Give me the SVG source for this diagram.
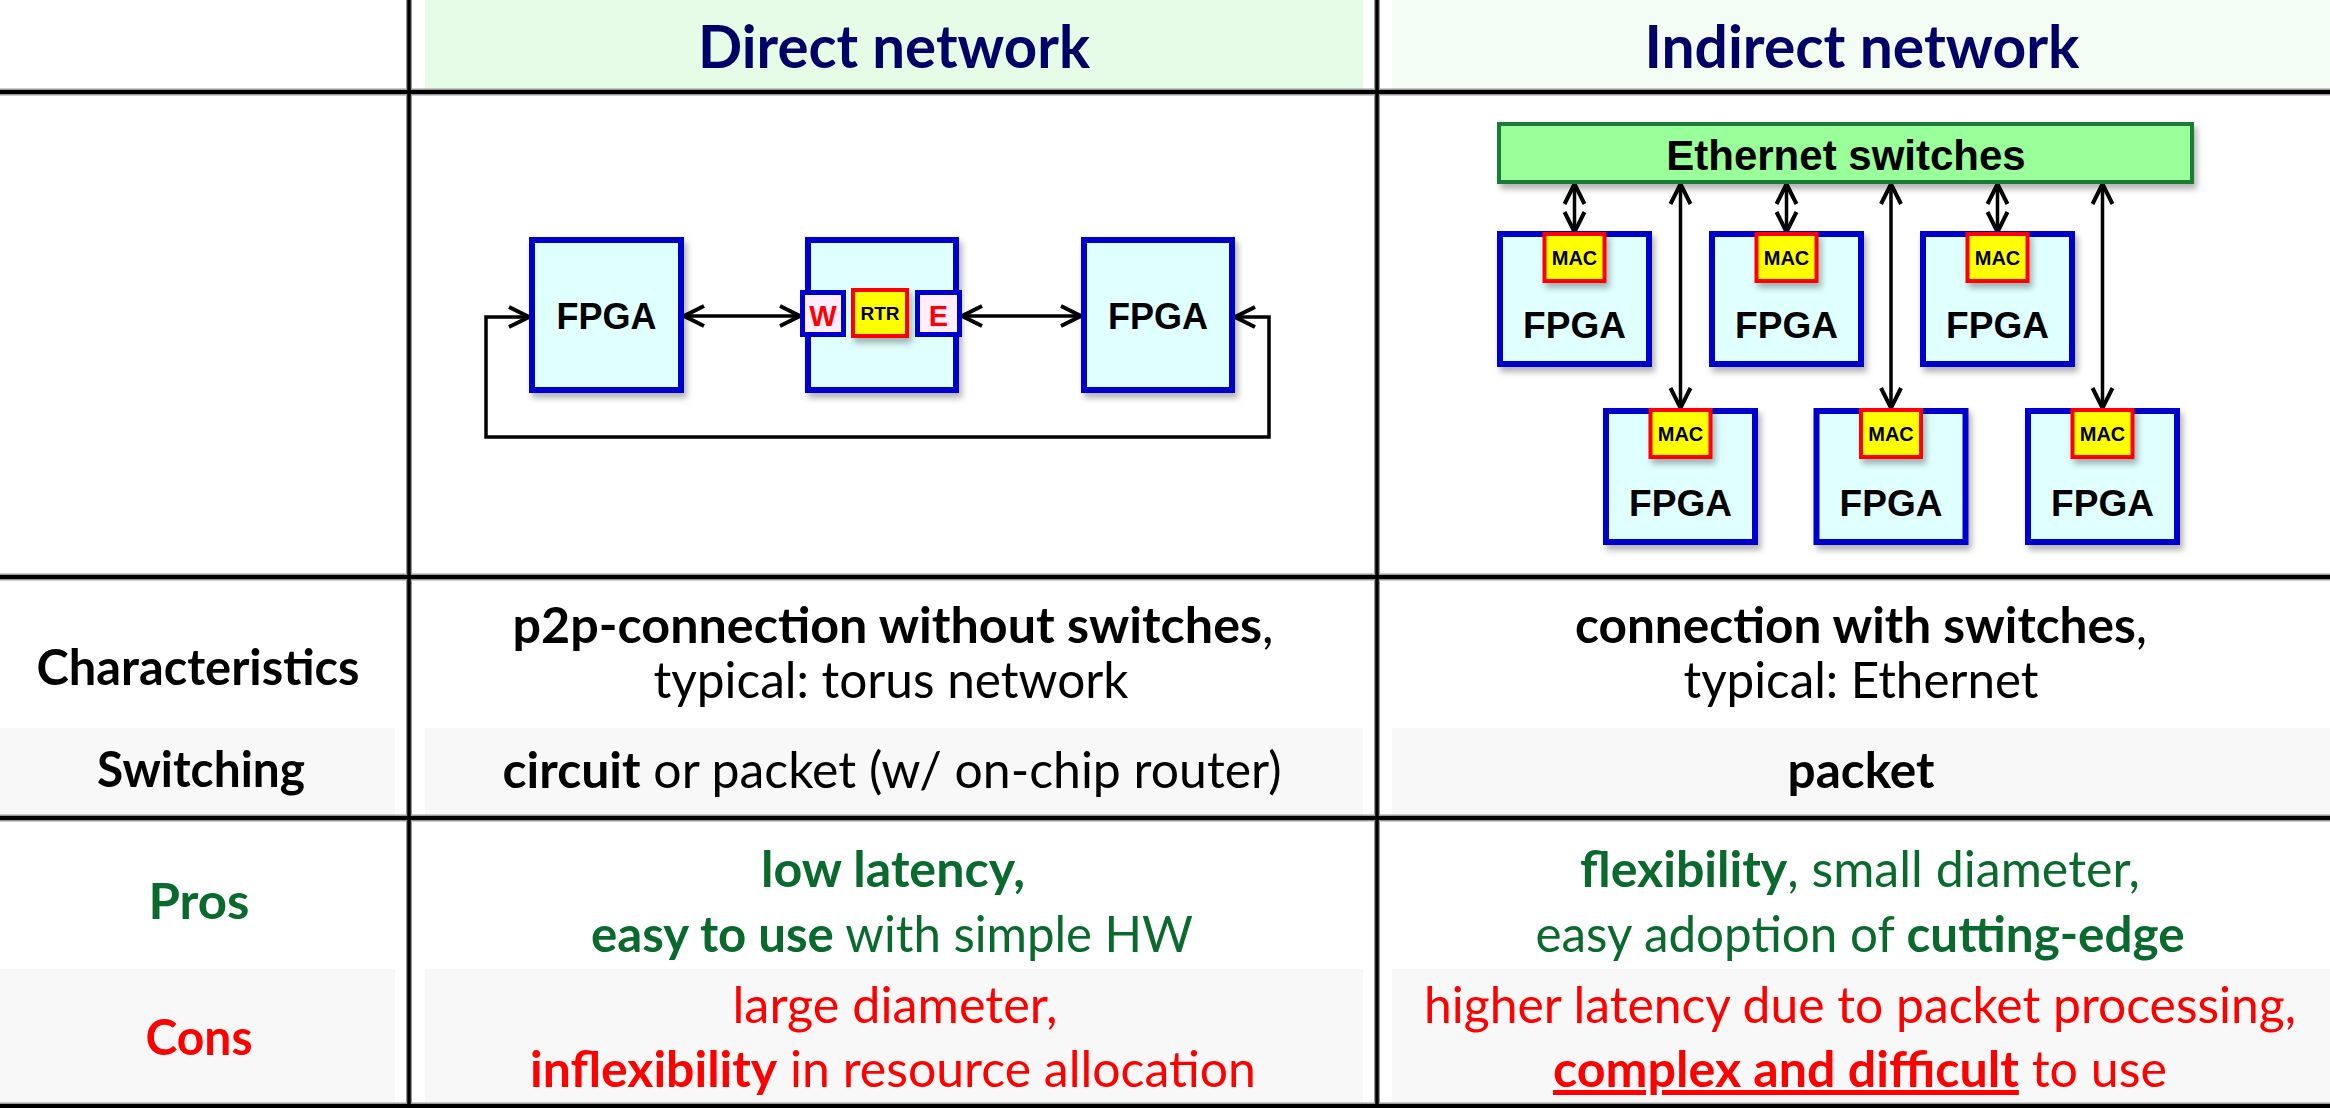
<svg xmlns="http://www.w3.org/2000/svg" width="2330" height="1108" viewBox="0 0 2330 1108">
<style>
.t{font-family:Lato,"Open Sans","Liberation Sans",sans-serif;font-size:50px;text-anchor:middle}
.b{font-weight:bold}
.hd{font-family:Lato,"Open Sans","Liberation Sans",sans-serif;font-size:60px;font-weight:bold;fill:#000066;text-anchor:middle}
.k{fill:#000}
.g{fill:#0a6a2e}
.r{fill:#ff0000}
.fp{fill:#e0ffff;stroke:#0000cc;stroke-width:6}
.mac{fill:#ffff00;stroke:#ff0000;stroke-width:4}
.port{fill:#ffeeff;stroke:#0000cc;stroke-width:5}
.dt{font-family:"Liberation Sans",Arial,sans-serif;font-weight:bold;text-anchor:middle}
.cn{fill:none;stroke:#000;stroke-width:3.5}
.gl{stroke:#9a9a9a;stroke-width:7}
.gk{stroke:#000;stroke-width:4}
</style>
<defs>
<filter id="sh" x="-20%" y="-20%" width="150%" height="150%">
<feDropShadow dx="3" dy="5" stdDeviation="3" flood-color="#000" flood-opacity="0.3"/>
</filter>
<marker id="ah" markerUnits="userSpaceOnUse" viewBox="-24 -14 28 28" markerWidth="28" markerHeight="28" refX="0" refY="0" orient="auto-start-reverse">
<path d="M-20,-10 L0,0 L-20,10" fill="none" stroke="#000" stroke-width="4"/>
</marker>
</defs>
<rect width="2330" height="1108" fill="#fff"/>
<g id="backgrounds">
<rect x="425" y="0" width="938" height="89" fill="#e6fce6"/>
<rect x="1392" y="0" width="938" height="89" fill="#f4fdf4"/>
<rect x="0" y="728" width="395" height="87" fill="#f8f8f8"/>
<rect x="425" y="728" width="938" height="87" fill="#f8f8f8"/>
<rect x="1392" y="728" width="938" height="87" fill="#f8f8f8"/>
<rect x="0" y="969" width="395" height="133" fill="#f8f8f8"/>
<rect x="425" y="969" width="938" height="133" fill="#f8f8f8"/>
<rect x="1392" y="969" width="938" height="133" fill="#f8f8f8"/>
</g>
<g id="grid">
<line class="gl" x1="0" y1="92" x2="2330" y2="92"/>
<line class="gl" x1="0" y1="577" x2="2330" y2="577"/>
<line class="gl" x1="0" y1="818" x2="2330" y2="818"/>
<line class="gl" x1="0" y1="1106" x2="2330" y2="1106"/>
<line class="gl" x1="409" y1="0" x2="409" y2="1108" style="stroke-width:6"/>
<line class="gl" x1="1377" y1="0" x2="1377" y2="1108" style="stroke-width:6"/>
<line class="gk" x1="0" y1="92" x2="2330" y2="92"/>
<line class="gk" x1="0" y1="577" x2="2330" y2="577"/>
<line class="gk" x1="0" y1="818" x2="2330" y2="818"/>
<line class="gk" x1="0" y1="1106" x2="2330" y2="1106"/>
<line class="gk" x1="409" y1="0" x2="409" y2="1108" style="stroke-width:3.5"/>
<line class="gk" x1="1377" y1="0" x2="1377" y2="1108" style="stroke-width:3.5"/>
</g>
<g id="headers">
<text class="hd" x="894" y="68" textLength="392" lengthAdjust="spacingAndGlyphs">Direct network</text>
<text class="hd" x="1862" y="68" textLength="435" lengthAdjust="spacingAndGlyphs">Indirect network</text>
</g>
<g id="row-labels">
<text class="t b k" x="198" y="685" textLength="323" lengthAdjust="spacingAndGlyphs">Characteristics</text>
<text class="t b k" x="201" y="787" textLength="208" lengthAdjust="spacingAndGlyphs">Switching</text>
<text class="t b g" x="199" y="919" textLength="101" lengthAdjust="spacingAndGlyphs">Pros</text>
<text class="t b r" x="199" y="1055" textLength="107" lengthAdjust="spacingAndGlyphs">Cons</text>
</g>
<g id="direct-texts">
<text class="t k" x="893" y="643" textLength="761" lengthAdjust="spacingAndGlyphs"><tspan class="b">p2p-connection without switches</tspan>,</text>
<text class="t k" x="891" y="698" textLength="475" lengthAdjust="spacingAndGlyphs">typical: torus network</text>
<text class="t k" x="892" y="788" textLength="779" lengthAdjust="spacingAndGlyphs"><tspan class="b">circuit</tspan> or packet (w/ on-chip router)</text>
<text class="t g b" x="893" y="887" textLength="264" lengthAdjust="spacingAndGlyphs">low latency,</text>
<text class="t g" x="892" y="952" textLength="602" lengthAdjust="spacingAndGlyphs"><tspan class="b">easy to use</tspan> with simple HW</text>
<text class="t r" x="895" y="1023" textLength="325" lengthAdjust="spacingAndGlyphs">large diameter,</text>
<text class="t r" x="893" y="1087" textLength="726" lengthAdjust="spacingAndGlyphs"><tspan class="b">inflexibility</tspan> in resource allocation</text>
</g>
<g id="indirect-texts">
<text class="t k" x="1861" y="643" textLength="572" lengthAdjust="spacingAndGlyphs"><tspan class="b">connection with switches</tspan>,</text>
<text class="t k" x="1861" y="698" textLength="355" lengthAdjust="spacingAndGlyphs">typical: Ethernet</text>
<text class="t k b" x="1861" y="788" textLength="147" lengthAdjust="spacingAndGlyphs">packet</text>
<text class="t g" x="1860" y="887" textLength="560" lengthAdjust="spacingAndGlyphs"><tspan class="b">flexibility</tspan>, small diameter,</text>
<text class="t g" x="1860" y="952" textLength="649" lengthAdjust="spacingAndGlyphs">easy adoption of <tspan class="b">cutting-edge</tspan></text>
<text class="t r" x="1860" y="1023" textLength="872" lengthAdjust="spacingAndGlyphs">higher latency due to packet processing,</text>
<text class="t r" x="1860" y="1087" textLength="614" lengthAdjust="spacingAndGlyphs"><tspan class="b" text-decoration="underline">complex and difficult</tspan> to use</text>
</g>
<g id="connectors">
<line class="cn" x1="684" y1="316" x2="800" y2="316" marker-start="url(#ah)" marker-end="url(#ah)"/>
<line class="cn" x1="962" y1="316" x2="1081" y2="316" marker-start="url(#ah)" marker-end="url(#ah)"/>
<polyline class="cn" points="529,317 486,317 486,437 1269,437 1269,317 1235,317" marker-start="url(#ah)" marker-end="url(#ah)"/>
<line class="cn" x1="1574.5" y1="184" x2="1574.5" y2="232" marker-start="url(#ah)" marker-end="url(#ah)"/>
<line class="cn" x1="1786.5" y1="184" x2="1786.5" y2="232" marker-start="url(#ah)" marker-end="url(#ah)"/>
<line class="cn" x1="1997.5" y1="184" x2="1997.5" y2="232" marker-start="url(#ah)" marker-end="url(#ah)"/>
<line class="cn" x1="1680.5" y1="184" x2="1680.5" y2="408" marker-start="url(#ah)" marker-end="url(#ah)"/>
<line class="cn" x1="1891" y1="184" x2="1891" y2="408" marker-start="url(#ah)" marker-end="url(#ah)"/>
<line class="cn" x1="2102.5" y1="184" x2="2102.5" y2="408" marker-start="url(#ah)" marker-end="url(#ah)"/>
</g>
<g id="fpga-left">
<rect class="fp" x="532" y="240" width="149" height="150" filter="url(#sh)"/>
<text class="dt" x="606.5" y="329" font-size="36">FPGA</text>
</g>
<g id="fpga-router">
<rect class="fp" x="808" y="240" width="148" height="150" filter="url(#sh)"/>
<g id="port-w">
<rect class="port" x="802.5" y="292.5" width="41" height="42"/>
<text class="dt r" x="823" y="326" font-size="29">W</text>
</g>
<g id="rtr">
<rect class="mac" x="853" y="290" width="54" height="46" filter="url(#sh)"/>
<text class="dt k" x="880" y="320" font-size="19">RTR</text>
</g>
<g id="port-e">
<rect class="port" x="917.5" y="292.5" width="42" height="42"/>
<text class="dt r" x="938.5" y="326" font-size="29">E</text>
</g>
</g>
<g id="fpga-right">
<rect class="fp" x="1084" y="240" width="148" height="150" filter="url(#sh)"/>
<text class="dt" x="1158" y="329" font-size="36">FPGA</text>
</g>
<g id="ethernet-switches">
<rect x="1499" y="124" width="693" height="58" fill="#99ff99" stroke="#1e7b34" stroke-width="4" filter="url(#sh)"/>
<text class="dt" x="1846" y="170" font-size="42">Ethernet switches</text>
</g>
<g id="fpga-i1">
<rect class="fp" x="1500" y="234" width="149" height="130" filter="url(#sh)"/>
<rect class="mac" x="1544.5" y="234" width="60" height="47" filter="url(#sh)"/>
<text class="dt" x="1574.5" y="265" font-size="20">MAC</text>
<text class="dt" x="1574.5" y="338" font-size="37">FPGA</text>
</g>
<g id="fpga-i2">
<rect class="fp" x="1712" y="234" width="149" height="130" filter="url(#sh)"/>
<rect class="mac" x="1756.5" y="234" width="60" height="47" filter="url(#sh)"/>
<text class="dt" x="1786.5" y="265" font-size="20">MAC</text>
<text class="dt" x="1786.5" y="338" font-size="37">FPGA</text>
</g>
<g id="fpga-i3">
<rect class="fp" x="1923" y="234" width="149" height="130" filter="url(#sh)"/>
<rect class="mac" x="1967.5" y="234" width="60" height="47" filter="url(#sh)"/>
<text class="dt" x="1997.5" y="265" font-size="20">MAC</text>
<text class="dt" x="1997.5" y="338" font-size="37">FPGA</text>
</g>
<g id="fpga-i4">
<rect class="fp" x="1606" y="411" width="149" height="131" filter="url(#sh)"/>
<rect class="mac" x="1650.5" y="410" width="60" height="47" filter="url(#sh)"/>
<text class="dt" x="1680.5" y="441" font-size="20">MAC</text>
<text class="dt" x="1680.5" y="516" font-size="37">FPGA</text>
</g>
<g id="fpga-i5">
<rect class="fp" x="1816.5" y="411" width="149" height="131" filter="url(#sh)"/>
<rect class="mac" x="1861" y="410" width="60" height="47" filter="url(#sh)"/>
<text class="dt" x="1891" y="441" font-size="20">MAC</text>
<text class="dt" x="1891" y="516" font-size="37">FPGA</text>
</g>
<g id="fpga-i6">
<rect class="fp" x="2028" y="411" width="149" height="131" filter="url(#sh)"/>
<rect class="mac" x="2072.5" y="410" width="60" height="47" filter="url(#sh)"/>
<text class="dt" x="2102.5" y="441" font-size="20">MAC</text>
<text class="dt" x="2102.5" y="516" font-size="37">FPGA</text>
</g>
</svg>
